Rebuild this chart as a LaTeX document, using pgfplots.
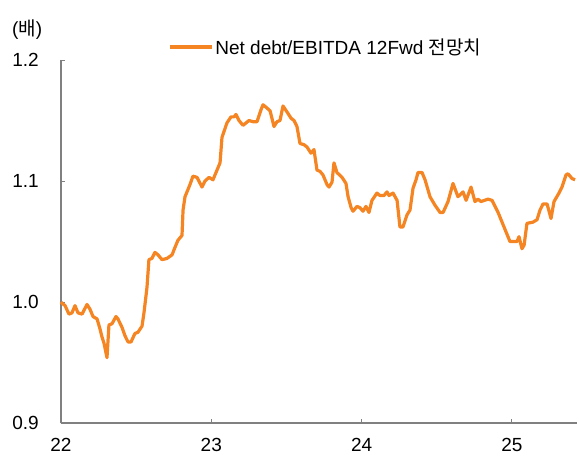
\documentclass[border=0pt]{standalone}
\usepackage{pgfplots}
\pgfplotsset{compat=1.18}
\usepackage{fontspec}
\setmainfont{Liberation Sans}
\newfontfamily\kr{Noto Sans CJK KR}
\definecolor{lineor}{RGB}{245,132,34}
\definecolor{axgray}{RGB}{128,128,128}
\begin{document}
\begin{tikzpicture}
\begin{axis}[
  scale only axis, width=516bp, height=363bp,
  xmin=22, xmax=25.433, ymin=0.9, ymax=1.2,
  axis lines*=left,
  axis line style={axgray, line width=1.2bp},
  tick style={axgray, line width=1bp},
  tick align=inside, major tick length=4bp,
  xtick={22,23,24,25}, ytick={0.9,1.0,1.1,1.2},
  xticklabels={22,23,24,25},
  yticklabels={0.9,1.0,1.1,1.2},
  font=\fontsize{19bp}{22bp}\selectfont,
  /pgf/number format/assume math mode=true,
  yticklabel style={anchor=east, inner sep=0pt, xshift=-22bp},
  xticklabel style={anchor=north, inner sep=0pt, yshift=-15bp},
  clip=false,
  legend style={at={(rel axis cs:0.2074,1.0358)}, anchor=west, draw=none, fill=none, inner sep=0pt,
    font=\fontsize{19bp}{22bp}\selectfont},
  legend image code/.code={\draw[#1] (0bp,0bp) -- (42bp,0bp);},
]
\addplot[lineor, line width=3.2bp, line join=round] coordinates {
(22.000,1.000) (22.007,0.999) (22.027,0.997) (22.053,0.990) (22.073,0.991)
(22.093,0.997) (22.113,0.991) (22.140,0.990) (22.173,0.998) (22.193,0.994)
(22.213,0.988) (22.240,0.986) (22.259,0.978) (22.273,0.971) (22.286,0.966)
(22.306,0.954) (22.319,0.981) (22.339,0.982) (22.366,0.988) (22.379,0.986)
(22.406,0.979) (22.426,0.972) (22.446,0.967) (22.466,0.967) (22.492,0.974)
(22.512,0.975) (22.539,0.980) (22.552,0.991) (22.572,1.012) (22.585,1.035)
(22.605,1.036) (22.625,1.041) (22.645,1.039) (22.672,1.035) (22.705,1.036)
(22.739,1.039) (22.758,1.045) (22.778,1.051) (22.805,1.055) (22.812,1.076)
(22.825,1.087) (22.845,1.093) (22.858,1.097) (22.878,1.104) (22.905,1.103)
(22.938,1.095) (22.958,1.100) (22.985,1.103) (23.011,1.101) (23.038,1.109)
(23.058,1.115) (23.071,1.136) (23.104,1.148) (23.131,1.153) (23.151,1.153)
(23.164,1.155) (23.184,1.150) (23.211,1.146) (23.231,1.148) (23.251,1.150)
(23.277,1.149) (23.304,1.149) (23.331,1.159) (23.344,1.163) (23.364,1.161)
(23.391,1.158) (23.417,1.145) (23.437,1.149) (23.457,1.150) (23.477,1.162)
(23.504,1.157) (23.530,1.152) (23.550,1.150) (23.570,1.145) (23.590,1.131)
(23.617,1.130) (23.637,1.128) (23.663,1.123) (23.683,1.126) (23.703,1.109)
(23.723,1.108) (23.743,1.105) (23.770,1.097) (23.783,1.095) (23.803,1.099)
(23.816,1.115) (23.836,1.107) (23.870,1.103) (23.896,1.098) (23.910,1.087)
(23.930,1.078) (23.943,1.075) (23.969,1.079) (23.989,1.078) (24.009,1.075)
(24.029,1.079) (24.049,1.074) (24.069,1.084) (24.102,1.090) (24.122,1.088)
(24.149,1.088) (24.169,1.091) (24.182,1.088) (24.209,1.090) (24.236,1.084)
(24.255,1.062) (24.275,1.062) (24.302,1.072) (24.322,1.076) (24.342,1.094)
(24.362,1.101) (24.375,1.107) (24.402,1.107) (24.422,1.101) (24.455,1.087)
(24.488,1.080) (24.522,1.074) (24.542,1.074) (24.575,1.083) (24.608,1.098)
(24.641,1.087) (24.675,1.091) (24.695,1.084) (24.728,1.095) (24.754,1.083)
(24.774,1.085) (24.794,1.083) (24.841,1.085) (24.868,1.084) (24.908,1.074)
(24.954,1.060) (24.987,1.050) (25.034,1.050) (25.047,1.054) (25.067,1.044)
(25.081,1.047) (25.100,1.065) (25.140,1.066) (25.167,1.068) (25.187,1.076)
(25.207,1.081) (25.234,1.081) (25.260,1.069) (25.280,1.083) (25.313,1.090)
(25.333,1.095) (25.360,1.105) (25.373,1.106) (25.400,1.102) (25.420,1.101)
};
\addlegendentry{Net debt/EBITDA 12Fwd {\kr 전망치}}
\coordinate (bl) at (rel axis cs:0,0);
\node[anchor=west, inner sep=0pt] at (rel axis cs:-0.095,1.085) {({\kr 배})};
\end{axis}
\pgfresetboundingbox
\path[use as bounding box] ([xshift=-61bp,yshift=-33bp]bl) rectangle ++(579bp,456bp);
\end{tikzpicture}
\end{document}
